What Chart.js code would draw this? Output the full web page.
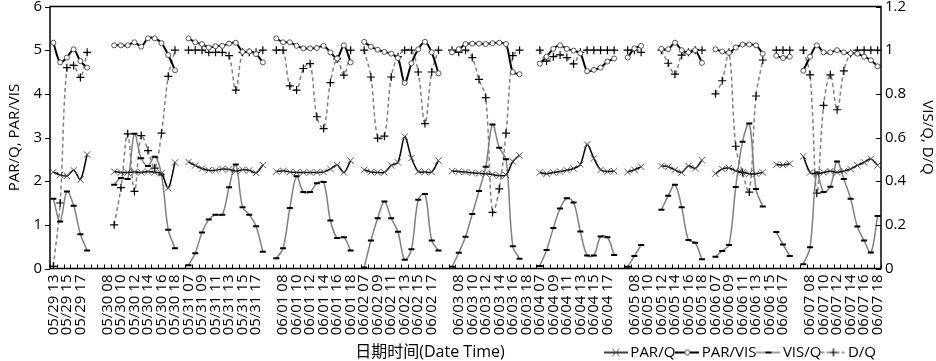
<!DOCTYPE html>
<html>
<head>
<meta charset="utf-8">
<script src="https://cdn.jsdelivr.net/npm/chart.js@4.4.1/dist/chart.umd.min.js"></script>
<style>
  html, body { margin: 0; padding: 0; background: #fff; overflow: hidden; }
  #wrap { width: 936px; height: 370px; }
</style>
</head>
<body>
<div id="wrap"><canvas id="ratioChart" width="936" height="370"></canvas></div>
<script>
// --- categories (hourly, one blank slot between days) ---
const days = ['05/29', '05/30', '05/31', '06/01', '06/02', '06/03', '06/04', '06/05', '06/06', '06/07'];
const firstDayHours = ['13', '14', '15', '16', '17', '18'];
const dayHours = ['07', '08', '09', '10', '11', '12', '13', '14', '15', '16', '17', '18'];

// --- series (null = no measurement / day separator) ---
const parQ = [
  2.21, 2.14, 2.12, 2.25, 2.04, 2.61, null,
  null, null, 2.22, 2.20, 2.20, 2.21, 2.20, 2.22, 2.20, 2.18, 1.84, 2.43, null,
  2.44, 2.36, 2.29, 2.25, 2.25, 2.28, 2.27, 2.23, 2.26, 2.25, 2.19, 2.37, null,
  2.22, 2.24, 2.21, 2.20, 2.20, 2.20, 2.20, 2.21, 2.28, 2.37, 2.20, 2.47, null,
  2.26, 2.21, 2.20, 2.20, 2.36, 2.43, 3.02, 2.53, 2.22, 2.21, 2.21, 2.47, null,
  2.23, 2.22, 2.21, 2.19, 2.18, 2.17, 2.15, 2.13, 2.14, 2.45, 2.59, null, null,
  2.20, 2.17, 2.20, 2.22, 2.25, 2.29, 2.38, 2.84, 2.52, 2.26, 2.22, 2.23, null,
  2.21, 2.26, 2.33, null, null, 2.35, 2.33, 2.26, 2.20, 2.35, 2.29, 2.48, null,
  2.17, 2.28, 2.30, 2.24, 2.20, 2.17, 2.17, 2.20, null, 2.38, 2.37, 2.40, null,
  2.57, 2.20, 2.17, 2.20, 2.23, 2.20, 2.23, 2.28, 2.36, 2.43, 2.51, 2.36
];
const parVis = [
  5.17, 4.72, 4.83, 5.02, 4.75, 4.60, null,
  null, null, 5.11, 5.11, 5.11, 5.18, 5.08, 5.27, 5.27, 5.16, 4.89, 4.54, null,
  5.27, 5.18, 5.14, 5.06, 5.09, 5.10, 5.15, 5.17, 4.96, 4.97, 4.91, 4.72, null,
  5.27, 5.18, 5.18, 5.10, 5.04, 5.04, 5.05, 5.10, 4.95, 4.81, 5.11, 4.72, null,
  5.19, 5.08, 5.01, 4.96, 4.92, 4.82, 4.25, 4.70, 5.02, 5.19, 4.95, 4.47, null,
  4.95, 5.02, 5.14, 5.15, 5.15, 5.14, 5.16, 5.17, 5.14, 4.50, 4.45, null, null,
  4.69, 4.85, 5.03, 5.11, 5.03, 4.99, 4.93, 4.52, 4.55, 4.60, 4.74, 4.81, null,
  4.83, 5.04, 5.10, null, null, 5.03, 5.02, 5.17, 5.00, 4.95, 5.00, 4.71, null,
  5.02, 4.97, 4.94, 5.06, 5.13, 5.13, 5.11, 4.92, null, 4.87, 4.82, 4.85, null,
  4.53, 4.85, 5.11, 4.95, 4.95, 5.00, 4.95, 4.93, 4.92, 4.85, 4.77, 4.63
];
const visQ = [
  0.32, 0.215, 0.353, 0.287, 0.157, 0.082, null,
  null, null, 0.384, 0.415, 0.41, 0.617, 0.505, 0.47, 0.512, 0.43, 0.178, 0.093, null,
  0.015, 0.07, 0.165, 0.224, 0.246, 0.246, 0.372, 0.476, 0.281, 0.246, 0.193, 0.077, null,
  0.047, 0.093, 0.277, 0.422, 0.35, 0.35, 0.39, 0.396, 0.22, 0.14, 0.143, 0.082, null,
  0.005, 0.128, 0.23, 0.307, 0.23, 0.168, 0.04, 0.088, 0.315, 0.341, 0.128, 0.082, null,
  0.008, 0.072, 0.145, 0.25, 0.355, 0.466, 0.66, 0.553, 0.5, 0.102, 0.045, null, null,
  0.012, 0.085, 0.185, 0.275, 0.322, 0.302, 0.17, 0.06, 0.06, 0.146, 0.143, 0.062, null,
  0.008, 0.057, 0.108, null, null, 0.269, 0.333, 0.384, 0.28, 0.131, 0.118, 0.042, null,
  0.054, 0.08, 0.108, 0.373, 0.58, 0.664, 0.364, 0.284, null, 0.167, 0.11, 0.057, null,
  0.02, 0.097, 0.44, 0.35, 0.375, 0.49, 0.41, 0.32, 0.192, 0.128, 0.073, 0.24
];
const dQ = [
  0.01, 0.30, 0.92, 0.93, 0.875, 0.99, null,
  null, null, 0.2, 0.37, 0.617, 0.353, 0.609, 0.54, 0.46, 0.62, 0.88, 1.0, null,
  1.0, 1.0, 1.0, 0.99, 0.99, 0.99, 0.975, 0.817, 0.99, 0.99, 0.99, 1.0, null,
  1.0, 1.0, 0.836, 0.817, 0.916, 0.938, 0.695, 0.641, 0.851, 0.96, 0.886, 1.0, null,
  1.0, 0.877, 0.597, 0.606, 0.877, 0.97, 1.0, 1.0, 0.9, 0.664, 0.9, 1.0, null,
  1.0, 0.99, 1.0, 0.966, 0.866, 0.783, 0.257, 0.365, 0.62, 0.975, 1.0, null, null,
  1.0, 0.95, 0.97, 0.978, 0.966, 0.937, 0.99, 1.0, 1.0, 1.0, 1.0, 1.0, null,
  1.0, 1.0, 0.99, null, null, 1.0, 0.94, 0.89, 0.977, 0.99, 1.0, 1.0, null,
  0.80, 0.86, 0.99, 0.56, 0.44, 0.35, 0.79, 0.955, null, 1.0, 1.0, 1.0, null,
  1.0, 0.887, 0.345, 0.747, 0.887, 0.727, 0.905, 0.985, 1.0, 1.0, 1.0, 1.0
];

const xTitle = '日期时间(Date Time)';

// build category labels from the day / hour lists
const labels = [];
days.forEach((d, k) => {
  const hrs = k === 0 ? firstDayHours : dayHours;
  hrs.forEach(h => labels.push(d + ' ' + h));
  if (k < days.length - 1) labels.push('');
});

const FONT = '"Open Sans", "Noto Sans CJK SC", sans-serif';
Chart.defaults.font.family = FONT;
Chart.defaults.color = '#000';

// small legend pictures: line + marker, like the spreadsheet legend
function legendIcon(draw) {
  const c = document.createElement('canvas');
  c.width = 24; c.height = 14;
  draw(c.getContext('2d'), 12, 7);
  return c;
}
const icons = [
  legendIcon((g, cx, cy) => {
    g.strokeStyle = '#000'; g.lineWidth = 1.5;
    g.beginPath(); g.moveTo(0, cy); g.lineTo(24, cy); g.stroke();
    g.strokeStyle = '#444'; g.lineWidth = 1;
    g.beginPath(); g.moveTo(cx - 3.5, cy - 3.5); g.lineTo(cx + 3.5, cy + 3.5);
    g.moveTo(cx - 3.5, cy + 3.5); g.lineTo(cx + 3.5, cy - 3.5); g.stroke();
  }),
  legendIcon((g, cx, cy) => {
    g.strokeStyle = '#000'; g.lineWidth = 2;
    g.beginPath(); g.moveTo(0, cy); g.lineTo(24, cy); g.stroke();
    g.fillStyle = '#fff'; g.strokeStyle = '#444'; g.lineWidth = 1;
    g.beginPath(); g.arc(cx, cy, 2.5, 0, Math.PI * 2); g.fill(); g.stroke();
  }),
  legendIcon((g, cx, cy) => {
    g.strokeStyle = '#808080'; g.lineWidth = 1.5;
    g.beginPath(); g.moveTo(0, cy); g.lineTo(24, cy); g.stroke();
    g.strokeStyle = '#000'; g.lineWidth = 2;
    g.beginPath(); g.moveTo(cx - 3, cy); g.lineTo(cx + 3, cy); g.stroke();
  }),
  legendIcon((g, cx, cy) => {
    g.strokeStyle = '#808080'; g.lineWidth = 1.5; g.setLineDash([3, 2]);
    g.beginPath(); g.moveTo(0, cy); g.lineTo(24, cy); g.stroke();
    g.setLineDash([]); g.strokeStyle = '#000'; g.lineWidth = 1.2;
    g.beginPath(); g.moveTo(cx - 4, cy); g.lineTo(cx + 4, cy);
    g.moveTo(cx, cy - 4); g.lineTo(cx, cy + 4); g.stroke();
  })
];

// frame, tick marks and x-axis title
const framePlugin = {
  id: 'framePlugin',
  afterDraw(chart) {
    const { ctx, chartArea: a, scales } = chart;
    ctx.save();
    ctx.strokeStyle = '#000';
    ctx.lineWidth = 1;
    ctx.beginPath();
    const xs = scales.x;
    const half = (xs.getPixelForValue(1) - xs.getPixelForValue(0)) / 2;
    for (let i = 0; i <= labels.length; i++) {
      const px = Math.round(xs.getPixelForValue(i) - half) + 0.5;
      ctx.moveTo(px, a.bottom); ctx.lineTo(px, a.bottom - 4);
    }
    scales.y.ticks.forEach(t => {
      const py = Math.round(scales.y.getPixelForValue(t.value)) + 0.5;
      ctx.moveTo(a.left - 5, py); ctx.lineTo(a.left, py);
    });
    scales.y1.ticks.forEach(t => {
      const py = Math.round(scales.y1.getPixelForValue(t.value)) + 0.5;
      ctx.moveTo(a.right - 5, py); ctx.lineTo(a.right, py);
    });
    ctx.stroke();
    ctx.lineWidth = 1.5;
    ctx.strokeRect(a.left, a.top, a.right - a.left, a.bottom - a.top);

    ctx.fillStyle = '#000';
    ctx.font = '16px ' + FONT;
    ctx.textAlign = 'center';
    ctx.textBaseline = 'middle';
    ctx.fillText(xTitle, 430, chart.legend.top + 12);
    ctx.restore();
  }
};

const ctx = document.getElementById('ratioChart').getContext('2d');
new Chart(ctx, {
  type: 'line',
  data: {
    labels: labels,
    datasets: [
      {
        label: 'PAR/Q', data: parQ, yAxisID: 'y',
        borderColor: '#000', borderWidth: 1.5, tension: 0.3,
        pointStyle: 'crossRot', pointRadius: 4.5, pointBorderColor: '#555', pointBorderWidth: 1
      },
      {
        label: 'PAR/VIS', data: parVis, yAxisID: 'y',
        borderColor: '#000', borderWidth: 2, tension: 0.3,
        pointStyle: 'circle', pointRadius: 2.5, pointBackgroundColor: '#fff',
        pointBorderColor: '#555', pointBorderWidth: 1
      },
      {
        label: 'VIS/Q', data: visQ, yAxisID: 'y1',
        borderColor: '#808080', borderWidth: 1.5, tension: 0.35,
        pointStyle: 'line', pointRadius: 3, pointBorderColor: '#000', pointBorderWidth: 2
      },
      {
        label: 'D/Q', data: dQ, yAxisID: 'y1',
        borderColor: '#808080', borderWidth: 1.5, borderDash: [4, 3], tension: 0.35,
        pointStyle: 'cross', pointRadius: 4, pointBorderColor: '#000', pointBorderWidth: 1.2
      }
    ]
  },
  options: {
    responsive: false,
    animation: false,
    devicePixelRatio: 1,
    layout: { padding: { top: 6.5, left: 0, right: 0, bottom: 0 } },
    plugins: {
      tooltip: { enabled: false },
      legend: {
        position: 'bottom',
        align: 'end',
        fullSize: false,
        labels: {
          usePointStyle: true,
          pointStyleWidth: 14,
          padding: 5,
          font: { size: 15 },
          color: '#000',
          generateLabels(chart) {
            const items = Chart.defaults.plugins.legend.labels.generateLabels(chart);
            items.forEach((it, i) => { it.pointStyle = icons[i]; });
            return items;
          }
        }
      }
    },
    scales: {
      x: {
        type: 'category',
        offset: true,
        grid: { display: false, drawTicks: false },
        border: { display: false },
        ticks: {
          autoSkip: false,
          minRotation: 90,
          maxRotation: 90,
          padding: 6,
          font: { size: 15 },
          callback: function (val, idx) { return idx % 2 === 0 ? this.getLabelForValue(val) : ''; }
        },
        afterFit(scale) { scale.height = 71.5; scale.paddingLeft = 0; scale.paddingRight = 0; }
      },
      y: {
        position: 'left',
        min: 0, max: 6,
        grid: { display: false, drawTicks: false },
        border: { display: false },
        ticks: { stepSize: 1, padding: 8, font: { size: 15 } },
        title: { display: true, text: 'PAR/Q, PAR/VIS', font: { size: 15 }, padding: { top: 6, bottom: 0 } },
        afterFit(scale) { scale.width = 50; scale.paddingTop = 0; scale.paddingBottom = 0; }
      },
      y1: {
        position: 'right',
        min: 0, max: 1.2,
        grid: { display: false, drawTicks: false },
        border: { display: false },
        ticks: {
          stepSize: 0.2, padding: 4, font: { size: 15 },
          callback: v => String(Math.round(v * 10) / 10)
        },
        title: { display: true, text: 'VIS/Q, D/Q', font: { size: 15 }, padding: { top: 0, bottom: 0 } },
        afterFit(scale) { scale.width = 55; scale.paddingTop = 0; scale.paddingBottom = 0; }
      }
    }
  },
  plugins: [framePlugin]
});
</script>
</body>
</html>
